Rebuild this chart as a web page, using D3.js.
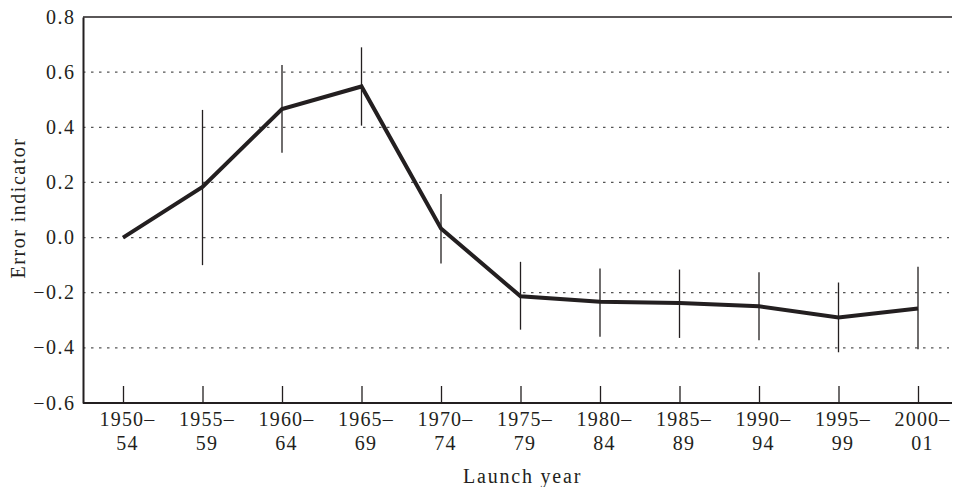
<!DOCTYPE html>
<html>
<head>
<meta charset="utf-8">
<script src="https://cdn.jsdelivr.net/npm/d3@7"></script>
<style>
  body { margin: 0; background: #fff; }
  text { font-family: "Liberation Serif", "DejaVu Serif", serif; fill: #231f20; }
</style>
</head>
<body>
<div id="chart"></div>
<script>
// launch-year categories (two-line labels)
var periods = ["1950–54", "1955–59", "1960–64", "1965–69", "1970–74", "1975–79",
               "1980–84", "1985–89", "1990–94", "1995–99", "2000–01"];
var labelTop = ["1950–", "1955–", "1960–", "1965–", "1970–", "1975–",
                "1980–", "1985–", "1990–", "1995–", "2000–"];
var labelBottom = ["54", "59", "64", "69", "74", "79", "84", "89", "94", "99", "01"];

// error indicator and its interval
var estimate = [0.0, 0.184, 0.466, 0.548, 0.033, -0.213, -0.233, -0.237, -0.249, -0.290, -0.257];
var upper    = [null, 0.463, 0.626, 0.690, 0.158, -0.088, -0.112, -0.116, -0.126, -0.163, -0.106];
var lower    = [null, -0.100, 0.308, 0.406, -0.094, -0.334, -0.360, -0.364, -0.372, -0.416, -0.405];

var yTicks = [0.8, 0.6, 0.4, 0.2, 0.0, -0.2, -0.4, -0.6];

var svgWidth = 954, svgHeight = 487;
var margin = { top: 17, right: 2, bottom: 84, left: 83 };
var width = svgWidth - margin.left - margin.right;
var height = svgHeight - margin.top - margin.bottom;

var svg = d3.select("#chart").append("svg")
  .attr("width", svgWidth)
  .attr("height", svgHeight);

var chartGroup = svg.append("g")
  .attr("transform", `translate(${margin.left}, ${margin.top})`);

var x = d3.scalePoint()
  .domain(periods)
  .range([40, 40 + 79.5 * 10]);

var y = d3.scaleLinear()
  .domain([-0.6, 0.8])
  .range([height, 0]);

// dotted gridlines
chartGroup.selectAll("line.grid")
  .data(yTicks.filter(d => d > -0.6 && d < 0.8))
  .enter()
  .append("line")
  .attr("x1", 0)
  .attr("x2", width - 3)
  .attr("y1", d => y(d))
  .attr("y2", d => y(d))
  .attr("stroke", "#555")
  .attr("stroke-width", 1.3)
  .attr("stroke-dasharray", "2.5,5.5");

// top border
chartGroup.append("line")
  .attr("x1", 0).attr("x2", width)
  .attr("y1", y(0.8)).attr("y2", y(0.8))
  .attr("stroke", "#231f20")
  .attr("stroke-width", 1.5);

// y axis
var yAxis = d3.axisLeft(y)
  .tickValues(yTicks)
  .tickSize(0)
  .tickPadding(7.5)
  .tickFormat(d => d3.format(".1f")(d).replace("-", "–"));

chartGroup.append("g")
  .call(yAxis)
  .call(g => g.select(".domain").attr("stroke", "#231f20").attr("stroke-width", 2))
  .call(g => g.selectAll("text")
    .style("font-size", "20px")
    .style("font-family", "'Liberation Serif', serif")
    .attr("letter-spacing", "1.5px")
    .attr("fill", "#231f20")
    .attr("dy", "0.3em"));

// x axis with inward ticks
var xAxis = d3.axisBottom(x)
  .tickSize(-17)
  .tickFormat("");

var xg = chartGroup.append("g")
  .attr("transform", `translate(0, ${height})`)
  .call(xAxis);
xg.select(".domain").attr("d", `M0,0H${width}`).attr("stroke", "#231f20").attr("stroke-width", 2);
xg.selectAll(".tick line").attr("stroke", "#231f20").attr("stroke-width", 1.3);

chartGroup.selectAll("text.xl1")
  .data(periods)
  .enter()
  .append("text")
  .attr("class", "xl1")
  .attr("x", d => x(d) + 4.5)
  .attr("y", height + 23)
  .attr("text-anchor", "middle")
  .attr("font-size", "20px")
  .attr("letter-spacing", "1.2px")
  .text((d, i) => labelTop[i]);

chartGroup.selectAll("text.xl2")
  .data(periods)
  .enter()
  .append("text")
  .attr("class", "xl2")
  .attr("x", d => x(d) + 4.5)
  .attr("y", height + 47)
  .attr("text-anchor", "middle")
  .attr("font-size", "20px")
  .attr("letter-spacing", "1.2px")
  .text((d, i) => labelBottom[i]);

// error bars
chartGroup.selectAll("line.err")
  .data(periods.filter((d, i) => upper[i] !== null))
  .enter()
  .append("line")
  .attr("x1", d => x(d))
  .attr("x2", d => x(d))
  .attr("y1", d => y(upper[periods.indexOf(d)]))
  .attr("y2", d => y(lower[periods.indexOf(d)]))
  .attr("stroke", "#231f20")
  .attr("stroke-width", 1.3);

// main line
var line = d3.line()
  .x((d, i) => x(periods[i]))
  .y(d => y(d));

chartGroup.append("path")
  .datum(estimate)
  .attr("d", line)
  .attr("fill", "none")
  .attr("stroke", "#231f20")
  .attr("stroke-width", 4)
  .attr("stroke-linejoin", "miter");

// axis titles
chartGroup.append("text")
  .attr("transform", "rotate(-90)")
  .attr("x", -191)
  .attr("y", -58)
  .attr("text-anchor", "middle")
  .attr("font-size", "20px")
  .attr("letter-spacing", "1.5px")
  .text("Error indicator");

chartGroup.append("text")
  .attr("x", 380)
  .attr("y", height + 80)
  .attr("text-anchor", "start")
  .attr("font-size", "20px")
  .attr("letter-spacing", "1.8px")
  .text("Launch year");
</script>
</body>
</html>
